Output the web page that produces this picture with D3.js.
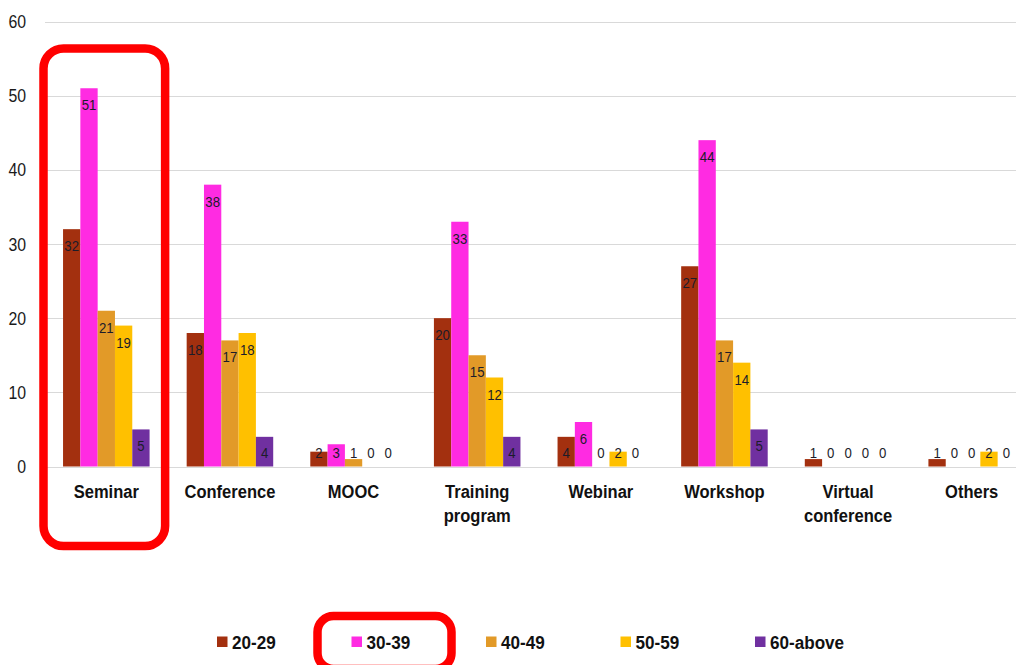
<!DOCTYPE html>
<html>
<head>
<meta charset="utf-8">
<script src="https://cdn.jsdelivr.net/npm/d3@7"></script>
<style>
  html, body { margin: 0; padding: 0; background: #fff; }
  svg { display: block; font-family: Arial, "Liberation Sans", sans-serif; }
</style>
</head>
<body>
<svg id="chart" width="1016" height="665"></svg>
<script>
// ---- data ----
const categories = ["Seminar", "Conference", "MOOC", "Training program", "Webinar", "Workshop", "Virtual conference", "Others"];
const seriesNames = ["20-29", "30-39", "40-49", "50-59", "60-above"];
const s2029 = [32, 18, 2, 20, 4, 27, 1, 1];
const s3039 = [51, 38, 3, 33, 6, 44, 0, 0];
const s4049 = [21, 17, 1, 15, 0, 17, 0, 0];
const s5059 = [19, 18, 0, 12, 2, 14, 0, 2];
const s60up = [5, 4, 0, 4, 0, 5, 0, 0];
const yTicks = [0, 10, 20, 30, 40, 50, 60];
const colors = ["#A3300F", "#FF2BE2", "#E29A28", "#FFC000", "#7030A0"];

const seriesValues = [s2029, s3039, s4049, s5059, s60up];

// ---- layout ----
const svg = d3.select("#chart");
const plotLeft = 44.5, plotRight = 1033.5;
const y = d3.scaleLinear().domain([0, 60]).range([466.5, 21.5]);
const x0 = d3.scaleBand().domain(categories).range([plotLeft, plotRight]).padding(0);
const bw = x0.bandwidth();
const x1 = d3.scaleBand().domain(seriesNames).range([bw * 0.15, bw * 0.85]).padding(0);
const color = d3.scaleOrdinal().domain(seriesNames).range(colors);
const SX = 0.88;

// gridlines
svg.append("g").selectAll("line").data(yTicks).join("line")
  .attr("x1", 45).attr("x2", 1016)
  .attr("y1", d => Math.round(y(d)) + 0.5).attr("y2", d => Math.round(y(d)) + 0.5)
  .attr("stroke", "#d9d9d9").attr("stroke-width", 1);

// y tick labels
svg.append("g").selectAll("text").data(yTicks).join("text")
  .attr("transform", d => `translate(26,${y(d) + 6.5}) scale(${SX},1)`)
  .attr("text-anchor", "end")
  .attr("font-size", 18).attr("fill", "#1a1a1a")
  .text(d => d);

// bars
const flat = [];
categories.forEach((c, i) => {
  seriesNames.forEach((s, j) => flat.push({cat: c, key: s, value: seriesValues[j][i]}));
});

const gBars = svg.append("g");
gBars.selectAll("rect").data(flat).join("rect")
  .attr("x", d => x0(d.cat) + x1(d.key))
  .attr("y", d => y(d.value))
  .attr("width", x1.bandwidth())
  .attr("height", d => y(0) - y(d.value))
  .attr("fill", d => color(d.key));

// data labels
gBars.selectAll("text").data(flat).join("text")
  .attr("transform", d => {
    const cx = x0(d.cat) + x1(d.key) + x1.bandwidth() / 2;
    const cy = Math.min(y(d.value) + 16.5, 452) + 5.5;
    return `translate(${cx},${cy}) scale(${SX},1)`;
  })
  .attr("text-anchor", "middle")
  .attr("font-size", 15).attr("fill", "#1c1c2a")
  .text(d => d.value);

// category labels
const gCat = svg.append("g");
categories.forEach(c => {
  const words = c.split(" ");
  const lines = words.length > 1 ? [words[0], words.slice(1).join(" ")] : [c];
  lines.forEach((ln, k) => {
    gCat.append("text")
      .attr("transform", `translate(${x0(c) + bw / 2},${497.5 + k * 24}) scale(0.87,1)`)
      .attr("text-anchor", "middle")
      .attr("font-size", 19).attr("font-weight", "bold").attr("fill", "#111")
      .text(ln);
  });
});

// legend
const legX = d3.scaleLinear().domain([0, seriesNames.length - 1]).range([217, 755]);
const gLeg = svg.append("g");
seriesNames.forEach((s, i) => {
  gLeg.append("rect")
    .attr("x", legX(i)).attr("y", 636.5)
    .attr("width", 10.5).attr("height", 10.5)
    .attr("fill", color(s));
  gLeg.append("text")
    .attr("transform", `translate(${legX(i) + 15},649) scale(0.9,1)`)
    .attr("font-size", 19).attr("font-weight", "bold").attr("fill", "#111")
    .text(s);
});

// highlight annotations
svg.append("rect")
  .attr("x", x0("Seminar") - 1).attr("y", 48.5)
  .attr("width", bw - 2).attr("height", 546 - 48.5)
  .attr("rx", 20).attr("ry", 20)
  .attr("fill", "none").attr("stroke", "#FF0000").attr("stroke-width", 8.5);

svg.append("rect")
  .attr("x", legX(1) - 34).attr("y", 616)
  .attr("width", 134).attr("height", 53)
  .attr("rx", 16).attr("ry", 16)
  .attr("fill", "none").attr("stroke", "#FF0000").attr("stroke-width", 8.5);
</script>
</body>
</html>
